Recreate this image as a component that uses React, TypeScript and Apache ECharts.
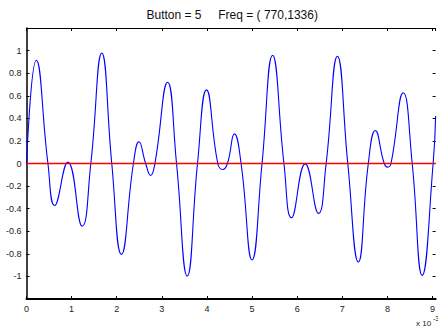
import React, { useEffect, useRef } from "react";
import * as echarts from "echarts";

// time in units of 1e-3 s (extrema and zero crossings)
const times = [
  0, 0.217, 0.475, 0.623, 0.917, 1.233, 1.426, 1.669, 1.89, 2.104, 2.37, 2.493,
  2.641, 2.752, 2.847, 3.128, 3.326, 3.563, 3.791, 3.99, 4.24, 4.35, 4.454,
  4.609, 4.757, 5.0, 5.221, 5.455, 5.707, 5.875, 6.178, 6.472, 6.642, 6.892,
  7.122, 7.356, 7.577, 7.732, 7.93, 8.006, 8.08, 8.351, 8.55, 8.771, 9.014, 9.07,
];
const signal = [
  0, 0.914, 0, -0.372, 0.012, -0.555, 0, 0.979, 0, -0.805, 0, 0.192, 0, -0.106,
  0, 0.72, 0, -0.997, 0, 0.652, 0, -0.053, 0, 0.262, 0, -0.855, 0, 0.959, 0,
  -0.481, -0.003, -0.442, 0, 0.95, 0, -0.873, 0, 0.292, 0, -0.032, 0, 0.626, 0,
  -0.991, 0, 0.42,
];
const zeroLevel = [0, 0];
const xTicks = [0, 1, 2, 3, 4, 5, 6, 7, 8, 9];
const titleText = "Button = 5\u00a0\u00a0\u00a0\u00a0 Freq = ( 770,1336)";

const FONT = "'Liberation Sans', Arial, Helvetica, sans-serif";

export default function App() {
  const ref = useRef<HTMLDivElement>(null);
  useEffect(() => {
    if (!ref.current) return;
    const chart = echarts.init(ref.current, undefined, { renderer: "svg" });
    const xMin = times[0];
    const xMax = times[times.length - 1];
    const labelColor = "#222";
    chart.setOption({
      animation: false,
      backgroundColor: "#ffffff",
      textStyle: { fontFamily: FONT },
      grid: { left: 26.5, right: 1.5, top: 28, bottom: 28, containLabel: false },
      xAxis: [
        {
          type: "value",
          min: xMin,
          max: xMax,
          interval: 1,
          position: "bottom",
          axisLine: { show: true, onZero: false, lineStyle: { color: "#000", width: 2 } },
          axisTick: { show: true, inside: true, length: 3, lineStyle: { color: "#000", width: 1 } },
          axisLabel: {
            show: true,
            margin: 5,
            fontSize: 9,
            color: labelColor,
            fontFamily: FONT,
            showMaxLabel: false,
            formatter: (v: number) => (xTicks.includes(Math.round(v * 1000) / 1000) ? String(v) : ""),
          },
          splitLine: { show: false },
        },
        {
          type: "value",
          min: xMin,
          max: xMax,
          interval: 1,
          position: "top",
          axisLine: { show: true, onZero: false, lineStyle: { color: "#000", width: 1 } },
          axisTick: { show: true, inside: true, length: 3, lineStyle: { color: "#000", width: 1 } },
          axisLabel: { show: false },
          splitLine: { show: false },
        },
      ],
      yAxis: [
        {
          type: "value",
          min: -1.2,
          max: 1.2,
          interval: 0.2,
          position: "left",
          axisLine: { show: true, onZero: false, lineStyle: { color: "#000", width: 1.5 } },
          axisTick: { show: true, inside: true, length: 3, lineStyle: { color: "#000", width: 1 } },
          axisLabel: {
            show: true,
            margin: 5,
            fontSize: 9,
            color: labelColor,
            fontFamily: FONT,
            formatter: (v: number) => {
              if (Math.abs(v) > 1.05) return "";
              const r = Math.round(v * 10) / 10;
              return r === 0 ? "0" : String(r);
            },
          },
          splitLine: { show: false },
        },
        {
          type: "value",
          min: -1.2,
          max: 1.2,
          interval: 0.2,
          position: "right",
          axisLine: { show: false, onZero: false },
          axisTick: { show: true, inside: true, length: 3, lineStyle: { color: "#000", width: 1 } },
          axisLabel: { show: false },
          splitLine: { show: false },
        },
      ],
      series: [
        {
          type: "line",
          data: times.map((t, i) => [t, signal[i]]),
          showSymbol: false,
          smooth: 0.5,
          lineStyle: { color: "#0000ff", width: 1.1 },
          z: 2,
        },
        {
          type: "line",
          data: [
            [xMin, zeroLevel[0]],
            [xMax, zeroLevel[1]],
          ],
          showSymbol: false,
          lineStyle: { color: "#ff0000", width: 1.5 },
          z: 3,
        },
      ],
      graphic: [
        {
          type: "text",
          left: 232.5 - 86,
          top: 9,
          style: {
            text: titleText,
            fontSize: 12,
            fontFamily: FONT,
            fill: "#111",
          },
        },
        {
          type: "text",
          x: 416,
          y: 319,
          style: { text: "x 10", fontSize: 8, fontFamily: FONT, fill: "#222" },
        },
        {
          type: "text",
          x: 433,
          y: 315,
          style: { text: "-3", fontSize: 7, fontFamily: FONT, fill: "#222" },
        },
      ],
    });
    return () => chart.dispose();
  }, []);
  return (
    <div
      ref={ref}
      style={{ position: "fixed", left: 0, top: 0, width: 438, height: 327 }}
    />
  );
}
